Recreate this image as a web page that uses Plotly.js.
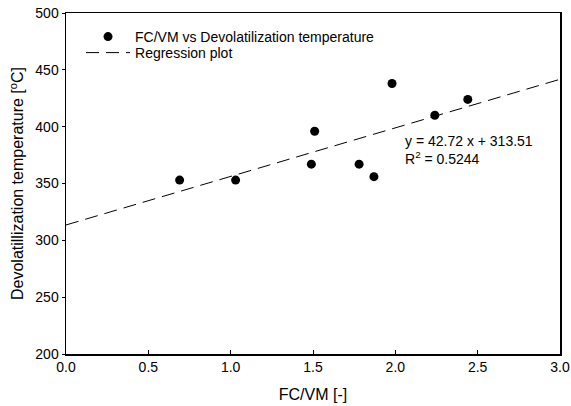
<!DOCTYPE html>
<html><head><meta charset="utf-8">
<script src="https://cdn.plot.ly/plotly-3.0.1.min.js"></script>
<style>body{margin:0;}#chart{width:571px;height:406px;}</style>
</head><body><div id="chart"></div>
<script>
const fcvm = [0.69, 1.03, 1.49, 1.51, 1.78, 1.87, 1.98, 2.24, 2.44];
const devolTemp = [353, 353, 367, 396, 367, 356, 438, 410, 424];
const regSlope = 42.72;
const regIntercept = 313.51;
const regX = [0, 3.0];
const regY = regX.map(x => regSlope * x + regIntercept);
const xTicks = [0, 0.5, 1.0, 1.5, 2.0, 2.5, 3.0];
const xTickText = ['0.0','0.5','1.0','1.5','2.0','2.5','3.0'];
const yTicks = [200, 250, 300, 350, 400, 450, 500];

const font = {family: 'Liberation Sans, Arial, sans-serif', color: '#000'};
const f = s => Object.assign({size: s}, font);
const traces = [
  {x: fcvm, y: devolTemp, mode: 'markers', type: 'scatter', name: 'FC/VM vs Devolatilization temperature',
   marker: {color: '#000', size: 9}, legend: 'legend'},
  {x: regX, y: regY, mode: 'lines', type: 'scatter', name: 'Regression plot',
   line: {color: '#000', width: 1, dash: '13px,7px'}, legend: 'legend2'}
];
const legBase = {xanchor: 'left', yanchor: 'middle', bgcolor: 'rgba(0,0,0,0)', font: f(14), borderwidth: 0, itemwidth: 44};
const layout = {
  width: 571, height: 406,
  margin: {l: 66, r: 11, t: 13, b: 52},
  paper_bgcolor: '#fff', plot_bgcolor: '#fff',
  font: f(14),
  showlegend: true,
  legend: Object.assign({x: 0.0304, y: 0.9296}, legBase),
  legend2: Object.assign({x: 0.0304, y: 0.8827}, legBase),
  xaxis: {range: [0, 3.0], tickvals: xTicks, ticktext: xTickText, ticks: 'inside', ticklen: 4,
    tickcolor: '#000', showgrid: false, zeroline: false, showline: true, linecolor: '#000', linewidth: 1.5,
    mirror: true, tickfont: f(14),
    title: {text: 'FC/VM [-]', font: f(16), standoff: 14}},
  yaxis: {range: [200, 500], tickvals: yTicks, ticks: 'outside', ticklen: 3,
    tickcolor: '#000', showgrid: false, zeroline: false, showline: true, linecolor: '#000', linewidth: 1.5,
    mirror: true, tickfont: f(14),
    title: {text: 'Devolatillization temperature [<sup>o</sup>C]', font: f(16), standoff: 7}},
  annotations: [
    {xref: 'paper', yref: 'paper', x: 0.682, y: 0.6246, xanchor: 'left', yanchor: 'middle', showarrow: false,
     text: 'y = 42.72 x + 313.51', font: f(14)},
    {xref: 'paper', yref: 'paper', x: 0.682, y: 0.5748, xanchor: 'left', yanchor: 'middle', showarrow: false,
     text: 'R<sup>2</sup> = 0.5244', font: f(14)}
  ]
};
Plotly.newPlot('chart', traces, layout, {displayModeBar: false, staticPlot: true});
</script></body></html>
